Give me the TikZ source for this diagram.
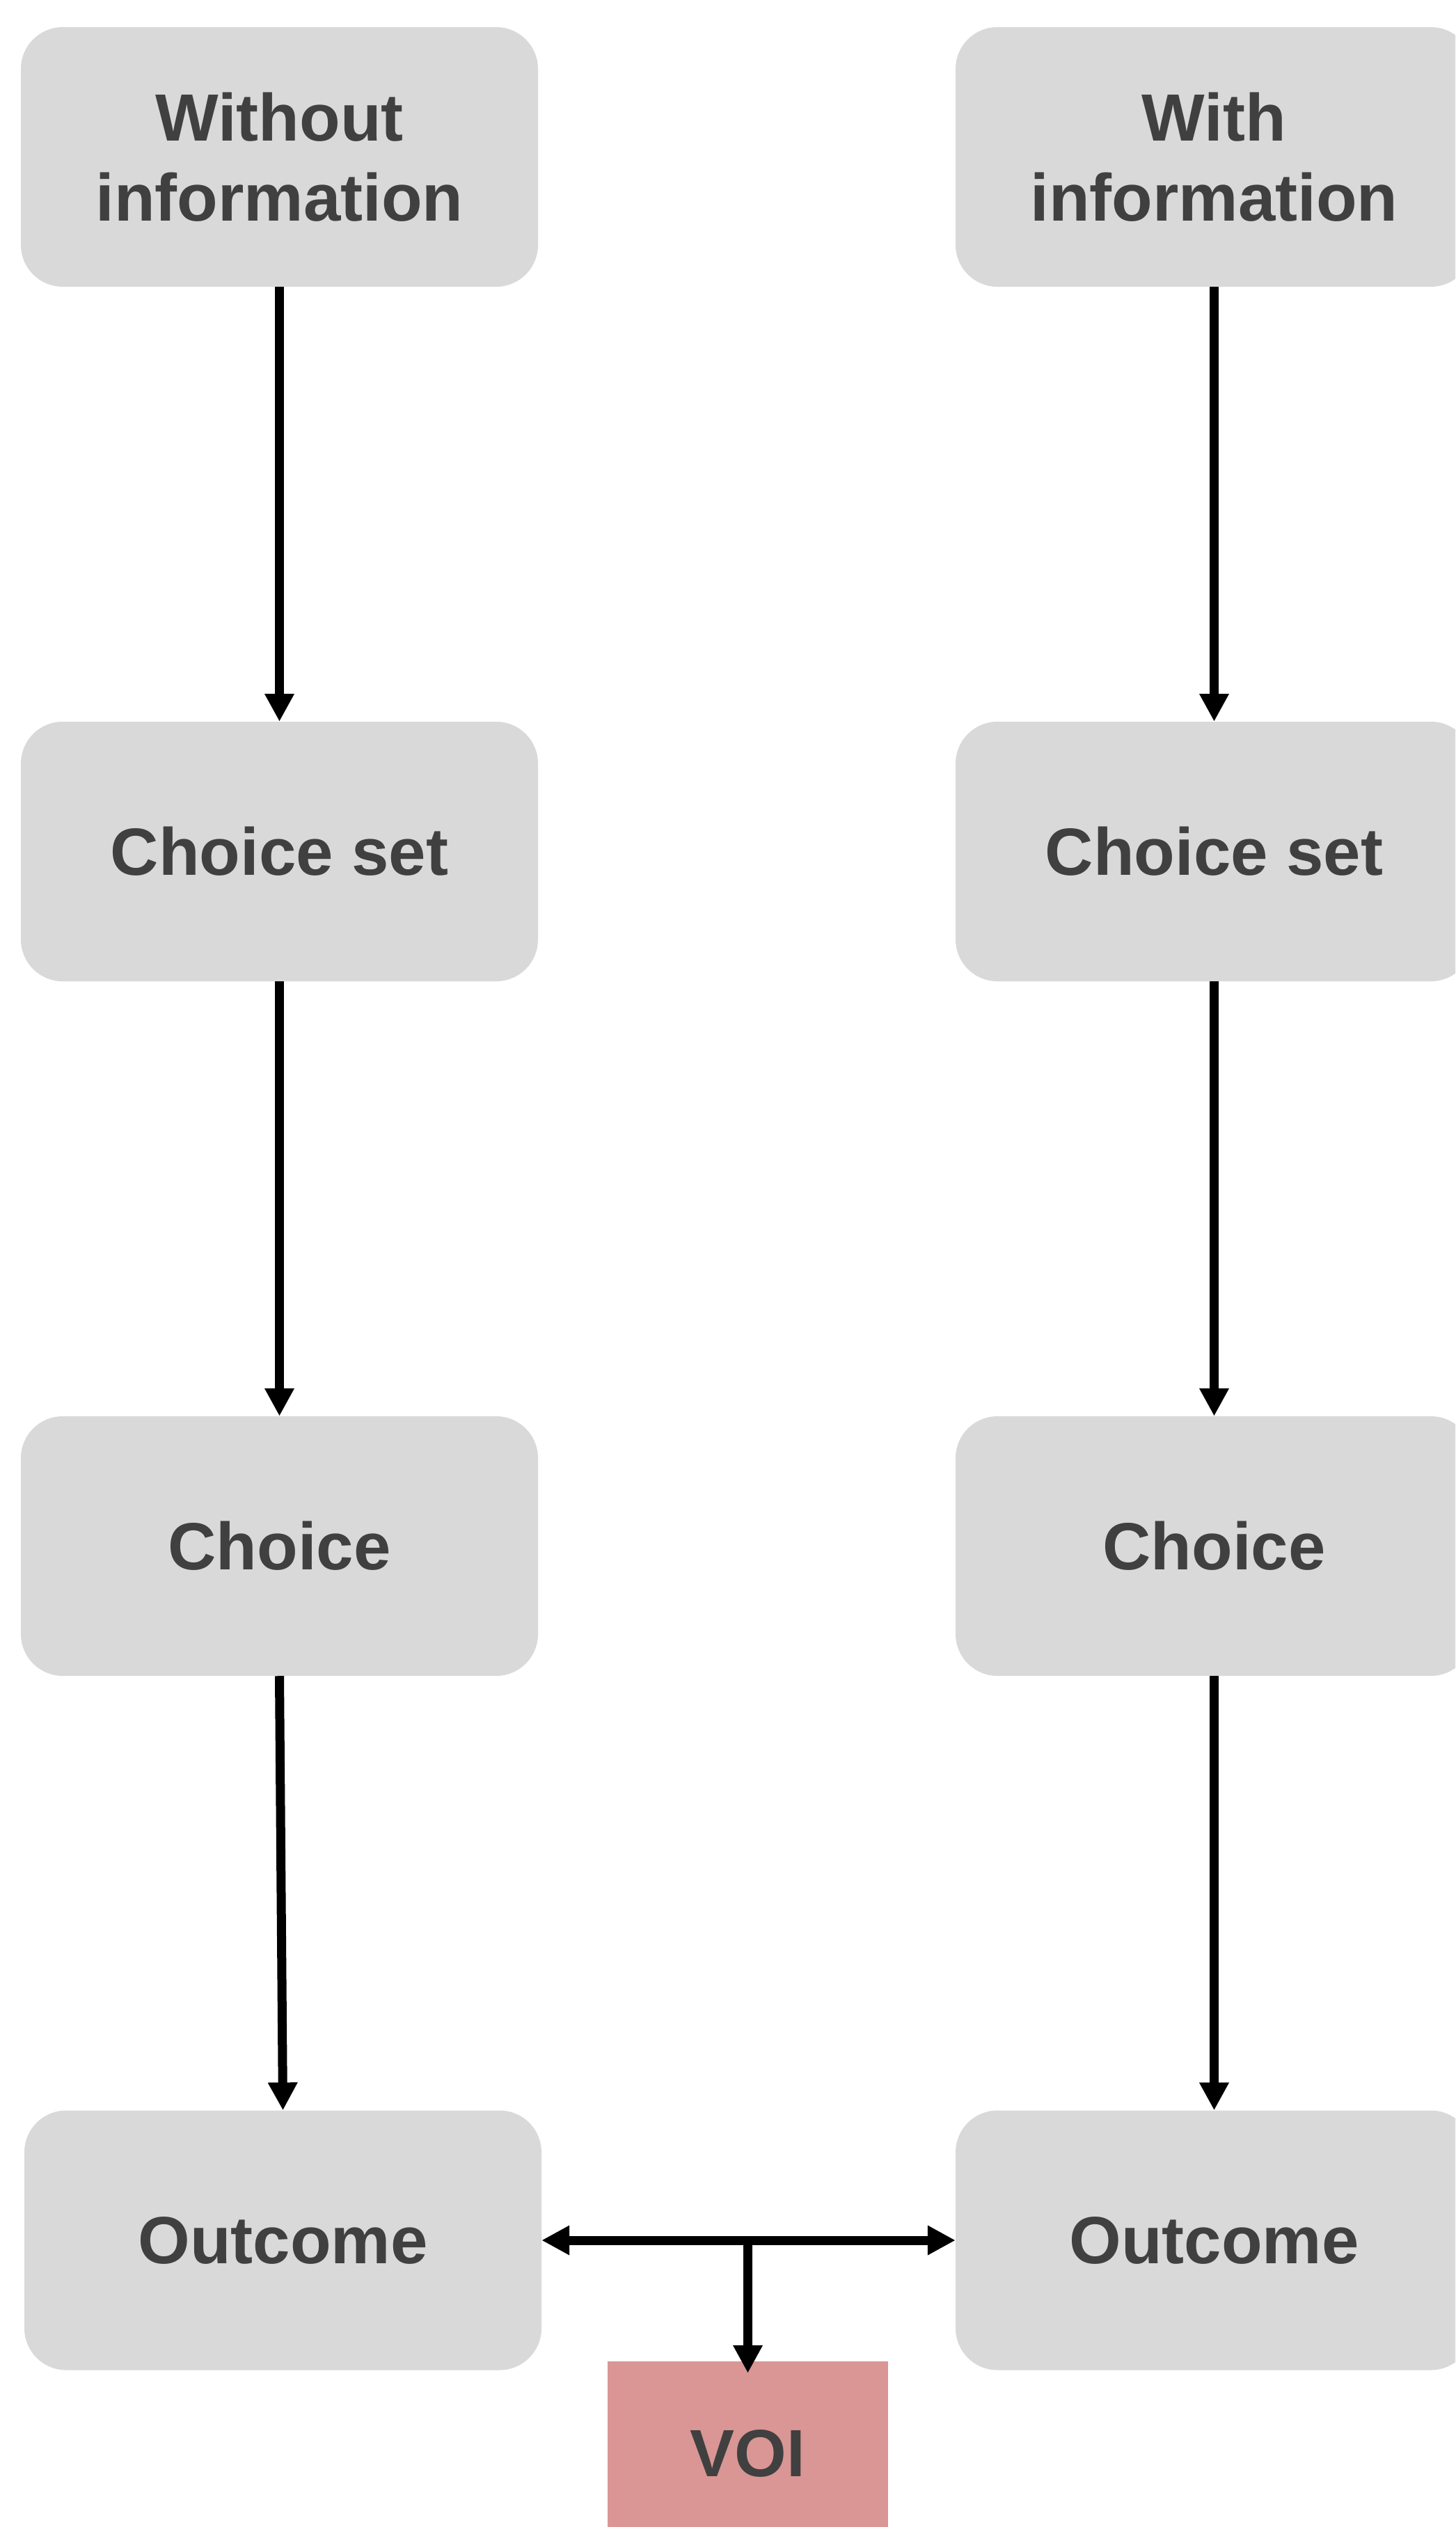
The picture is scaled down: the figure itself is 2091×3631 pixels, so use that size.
\documentclass[tikz,border=0pt]{standalone}
\usepackage{fontspec}
\setmainfont{Liberation Sans}
\usetikzlibrary{arrows.meta}
\definecolor{boxgray}{HTML}{D9D9D9}
\definecolor{txtgray}{HTML}{404040}
\definecolor{voired}{HTML}{D99694}
\tikzset{
  flowbox/.style={rectangle, rounded corners=60pt, fill=boxgray, draw=none,
    minimum width=743pt, minimum height=373pt, inner sep=0pt,
    align=center, text=txtgray, font=\fontsize{96}{115}\selectfont\bfseries},
  voibox/.style={rectangle, fill=voired, draw=none,
    minimum width=403pt, minimum height=264pt, inner sep=0pt,
    text=txtgray, font=\fontsize{96}{115}\selectfont\bfseries},
  conn/.style={line width=13pt, -{Triangle[length=40pt,width=40pt]}},
  dconn/.style={line width=13pt, {Triangle[length=40pt,width=40pt]}-{Triangle[length=40pt,width=40pt]}}
}
\begin{document}
\begin{tikzpicture}[x=1pt,y=-1pt]
\useasboundingbox (0,0) rectangle (2091,3631);
\clip (0,0) rectangle (2091,3631);
\node[flowbox] (lt) at (401.5,225.5) {Without\\information};
\node[flowbox] (rt) at (1744.5,225.5) {With\\information};
\node[flowbox] (lc) at (401.5,1223.5) {Choice set};
\node[flowbox] (rc) at (1744.5,1223.5) {Choice set};
\node[flowbox] (lch) at (401.5,2221.5) {Choice};
\node[flowbox] (rch) at (1744.5,2221.5) {Choice};
\node[flowbox] (lo) at (406.5,3219) {Outcome};
\node[flowbox] (ro) at (1744.5,3219) {Outcome};
\node[voibox] (voi) at (1074.5,3525) {VOI};
\draw[conn] (lt.south) -- (lc.north);
\draw[conn] (rt.south) -- (rc.north);
\draw[conn] (lc.south) -- (lch.north);
\draw[conn] (rc.south) -- (rch.north);
\draw[conn] (lch.south) -- (lo.north);
\draw[conn] (rch.south) -- (ro.north);
\draw[dconn] (lo.east) -- (ro.west);
\coordinate (j) at (voi.north |- lo.east);
\draw[conn] (j) -- ([yshift=-17pt]voi.north);
\end{tikzpicture}
\end{document}
